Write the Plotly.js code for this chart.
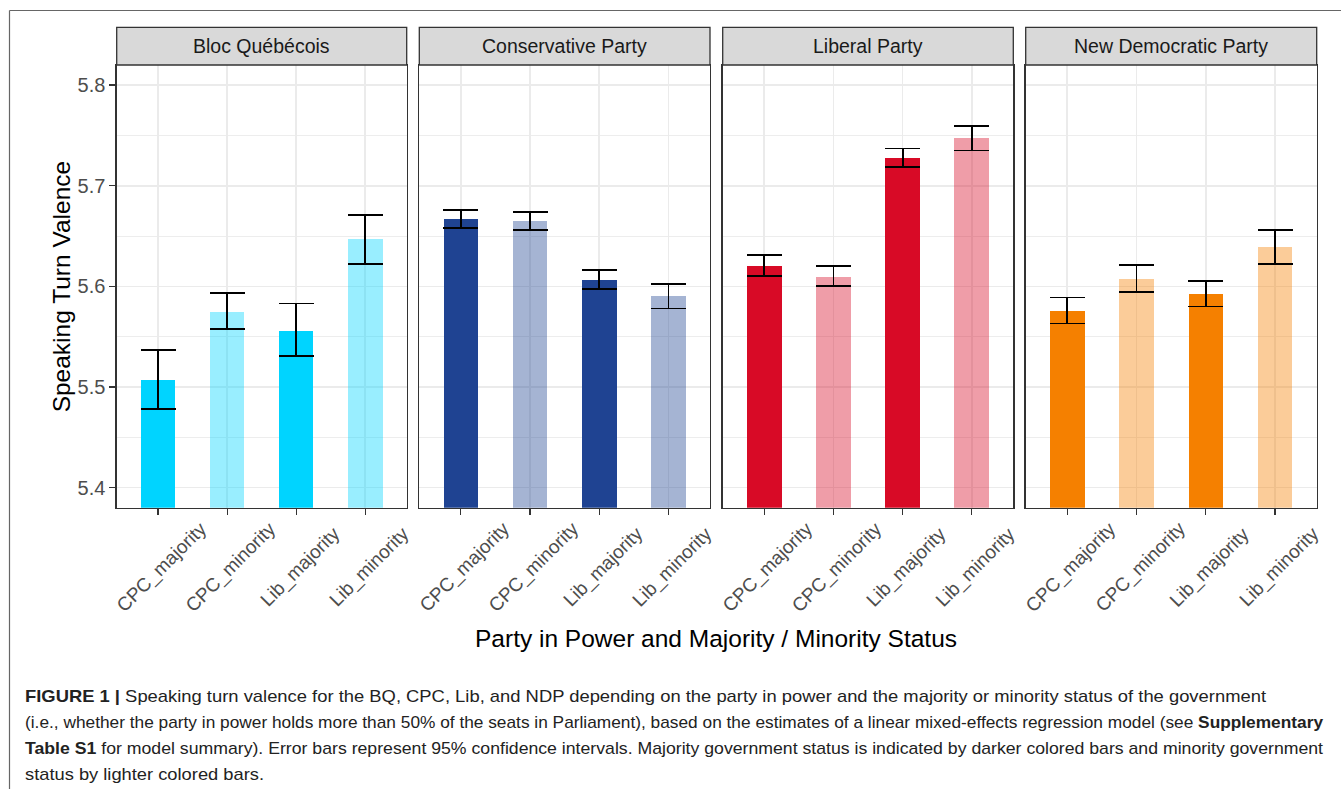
<!DOCTYPE html>
<html>
<head>
<meta charset="utf-8">
<script src="https://cdn.plot.ly/plotly-3.0.1.min.js"></script>
<style>
  html, body { margin: 0; padding: 0; background: #ffffff; }
  #chart { width: 1341px; height: 789px; }
</style>
</head>
<body>
<div id="chart"></div>
<script>
// Facet panels and the government conditions along each x axis
const parties = ['Bloc Québécois', 'Conservative Party', 'Liberal Party', 'New Democratic Party'];
const conditions = ['CPC_majority', 'CPC_minority', 'Lib_majority', 'Lib_minority'];

// Estimated speaking turn valence with 95% confidence limits
const bqEst  = [5.507, 5.575, 5.556, 5.647];
const bqLow  = [5.478, 5.558, 5.531, 5.622];
const bqHigh = [5.537, 5.593, 5.583, 5.671];

const cpcEst  = [5.667, 5.665, 5.606, 5.590];
const cpcLow  = [5.658, 5.656, 5.597, 5.578];
const cpcHigh = [5.676, 5.674, 5.616, 5.602];

const libEst  = [5.620, 5.609, 5.728, 5.747];
const libLow  = [5.610, 5.600, 5.719, 5.735];
const libHigh = [5.631, 5.620, 5.737, 5.759];

const ndpEst  = [5.576, 5.607, 5.592, 5.639];
const ndpLow  = [5.563, 5.594, 5.580, 5.622];
const ndpHigh = [5.589, 5.621, 5.605, 5.656];

// Party colours (RGB); minority bars use the same colour at reduced alpha
const partyRGB = ['0,212,255', '31,67,146', '216,10,38', '245,128,0'];

const panelData = [
  [bqEst, bqLow, bqHigh],
  [cpcEst, cpcLow, cpcHigh],
  [libEst, libLow, libHigh],
  [ndpEst, ndpLow, ndpHigh]
];

// Page geometry (pixels) -> paper fractions
const W = 1341, H = 789;
const px = x => x / W;
const py = y => 1 - y / H;

const panelLeft  = [116.7, 419.3, 722.7, 1025.7];
const panelRight = [406.7, 710.0, 1013.3, 1316.7];
const plotTop = 65.0, plotBottom = 507.7, stripTop = 27.3;
const tickLabelCenterY = 567;

const gridColor = '#EBEBEB';
const frameColor = '#333333';
const font = 'Liberation Sans, Arial, sans-serif';

const traces = [];
const layout = {
  width: W, height: H,
  margin: {l: 0, r: 0, t: 0, b: 0},
  paper_bgcolor: '#ffffff',
  plot_bgcolor: '#ffffff',
  showlegend: false,
  bargap: 0,
  font: {family: font, color: '#1a1a1a'},
  shapes: [],
  annotations: []
};

panelData.forEach((d, i) => {
  const [est, low, high] = d;
  const n = i + 1;
  const xa = n === 1 ? 'x' : 'x' + n;
  const ya = n === 1 ? 'y' : 'y' + n;
  const colors = conditions.map(c => c.endsWith('majority')
    ? 'rgb(' + partyRGB[i] + ')'
    : 'rgba(' + partyRGB[i] + ',0.4)');

  traces.push({
    type: 'bar',
    x: conditions,
    y: est,
    xaxis: xa,
    yaxis: ya,
    width: 0.5,
    marker: {color: colors, line: {width: 0}},
    error_y: {
      type: 'data',
      symmetric: false,
      array: high.map((h, k) => h - est[k]),
      arrayminus: low.map((l, k) => est[k] - l),
      color: '#000000',
      thickness: 1.8,
      width: 17.5
    },
    hoverinfo: 'x+y'
  });

  const xKey = n === 1 ? 'xaxis' : 'xaxis' + n;
  const yKey = n === 1 ? 'yaxis' : 'yaxis' + n;

  layout[xKey] = {
    domain: [px(panelLeft[i]), px(panelRight[i])],
    anchor: ya,
    type: 'category',
    categoryorder: 'array',
    categoryarray: conditions,
    range: [-0.6, 3.6],
    showgrid: true,
    gridcolor: gridColor,
    gridwidth: 1.6,
    showline: true,
    mirror: true,
    linecolor: frameColor,
    linewidth: 1.3,
    ticks: 'outside',
    ticklen: 6,
    tickwidth: 1.3,
    tickcolor: frameColor,
    showticklabels: false,
    zeroline: false,
    fixedrange: true
  };

  layout[yKey] = {
    domain: [py(plotBottom), py(plotTop)],
    anchor: xa,
    range: [5.38, 5.82],
    tick0: 5.4,
    dtick: 0.1,
    tickformat: '.1f',
    showgrid: true,
    gridcolor: gridColor,
    gridwidth: 1.6,
    minor: {dtick: 0.05, tick0: 5.4, showgrid: true, gridcolor: gridColor, gridwidth: 0.9},
    showline: true,
    mirror: true,
    linecolor: frameColor,
    linewidth: 1.3,
    ticks: n === 1 ? 'outside' : '',
    ticklen: 6,
    tickwidth: 1.3,
    tickcolor: frameColor,
    showticklabels: n === 1,
    tickfont: {family: font, size: 20, color: '#4d4d4d'},
    zeroline: false,
    fixedrange: true
  };

  // Rotated category labels, centred under each tick
  conditions.forEach(c => {
    layout.annotations.push({
      xref: xa, yref: 'paper',
      x: c, y: py(tickLabelCenterY),
      xanchor: 'center', yanchor: 'middle',
      xshift: 4,
      text: c,
      textangle: -45,
      showarrow: false,
      font: {family: font, size: 19, color: '#4d4d4d'}
    });
  });

  // Facet strip
  layout.shapes.push({
    type: 'rect', xref: 'paper', yref: 'paper',
    x0: px(panelLeft[i]), x1: px(panelRight[i]),
    y0: py(plotTop), y1: py(stripTop),
    fillcolor: '#D9D9D9',
    line: {color: frameColor, width: 1.3},
    layer: 'above'
  });
  layout.annotations.push({
    xref: 'paper', yref: 'paper',
    x: px((panelLeft[i] + panelRight[i]) / 2), y: py((plotTop + stripTop) / 2),
    xanchor: 'center', yanchor: 'middle',
    text: parties[i],
    showarrow: false,
    font: {family: font, size: 19.5, color: '#1a1a1a'}
  });
});

// Axis titles
layout.annotations.push({
  xref: 'paper', yref: 'paper',
  x: px(61), y: py((plotTop + plotBottom) / 2),
  xanchor: 'center', yanchor: 'middle',
  text: 'Speaking Turn Valence',
  textangle: -90,
  showarrow: false,
  font: {family: font, size: 24.5, color: '#000000'}
});
layout.annotations.push({
  xref: 'paper', yref: 'paper',
  x: px(716), y: py(638),
  xanchor: 'center', yanchor: 'middle',
  text: 'Party in Power and Majority / Minority Status',
  showarrow: false,
  font: {family: font, size: 24.5, color: '#000000'}
});

// Figure caption, one annotation per line
const captionLines = [
  '<b>FIGURE 1 |</b> Speaking turn valence for the BQ, CPC, Lib, and NDP depending on the party in power and the majority or minority status of the government',
  '(i.e., whether the party in power holds more than 50% of the seats in Parliament), based on the estimates of a linear mixed-effects regression model (see <b>Supplementary</b>',
  '<b>Table S1</b> for model summary). Error bars represent 95% confidence intervals. Majority government status is indicated by darker colored bars and minority government',
  'status by lighter colored bars.'
];
const captionY = [696, 722, 748, 774];
const captionWidth = [1241, 1298, 1298, 239];
const captionStart = layout.annotations.length;
captionLines.forEach((t, k) => {
  layout.annotations.push({
    xref: 'paper', yref: 'paper',
    x: px(23), y: py(captionY[k]),
    xanchor: 'left', yanchor: 'middle',
    align: 'left',
    text: t,
    showarrow: false,
    font: {family: font, size: 17, color: '#222222'}
  });
});

// Page frame around figure and caption
layout.shapes.push({
  type: 'line', xref: 'paper', yref: 'paper',
  x0: px(9.5), x1: 1, y0: py(10.5), y1: py(10.5),
  line: {color: '#666666', width: 1.2}
});
layout.shapes.push({
  type: 'line', xref: 'paper', yref: 'paper',
  x0: px(9.5), x1: px(9.5), y0: py(10.5), y1: 0,
  line: {color: '#666666', width: 1.2}
});

Plotly.newPlot('chart', traces, layout, {displayModeBar: false, staticPlot: true}).then(gd => {
  // Fit each caption line to its set line width (narrow typeset caption)
  const texts = gd.querySelectorAll('.annotation-text');
  captionWidth.forEach((w, k) => {
    const el = texts[captionStart + k];
    if (el) {
      el.setAttribute('textLength', w);
      el.setAttribute('lengthAdjust', 'spacingAndGlyphs');
    }
  });
});
</script>
</body>
</html>
